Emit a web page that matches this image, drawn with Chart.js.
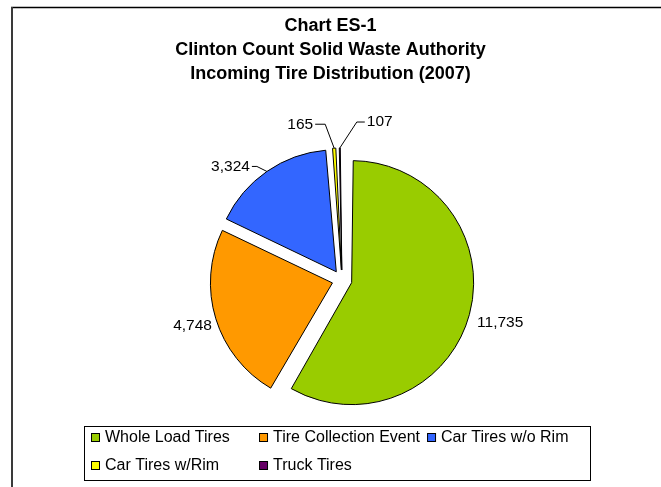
<!DOCTYPE html>
<html>
<head>
<meta charset="utf-8">
<title>Chart ES-1</title>
<script src="https://cdn.jsdelivr.net/npm/chart.js@4/dist/chart.umd.min.js"></script>
<style>
  html, body { margin: 0; padding: 0; background: #fff; }
  #wrap { width: 661px; height: 487px; }
</style>
</head>
<body>
<div id="wrap"><canvas id="tire-chart" width="661" height="487"></canvas></div>
<script>
const titleLines = ['Chart ES-1', 'Clinton Count Solid Waste Authority', 'Incoming Tire Distribution (2007)'];
const categories = ['Whole Load Tires', 'Tire Collection Event', 'Car Tires w/o Rim', 'Car Tires w/Rim', 'Truck Tires'];
const tireCounts = [11735, 4748, 3324, 165, 107];
const sliceColors = ['#99cc00', '#ff9900', '#3366ff', '#ffff00', '#660066'];

// how each value label sits: big slices along the bisector, thin ones on a leader line
const labelPlacement = [
  { gap: 8 },
  { gap: 4 },
  { elbow: [-10, -5], run: -5 },
  { elbow: [-9, -24], run: -10 },
  { elbow: [17, -26], run: 8 },
];

const FONT = "'Liberation Sans', Arial, Helvetica, sans-serif";
const EXPLODE = 10; // px every slice is pulled out
const RADIUS = 122;

const fmt = (n) => String(n).replace(/\B(?=(\d{3})+(?!\d))/g, ',');
const total = tireCounts.reduce((a, b) => a + b, 0);

// chart.js v4 moves an arc by offset/4 and grows it by (offset/4)*fix, fix depending on its angle
const arcFix = (i) => 1 - Math.sin(Math.min(Math.PI, (tireCounts[i] / total) * 2 * Math.PI));

const framePlugin = {
  id: 'frame',
  beforeDraw(chart) {
    const { ctx, width, height } = chart;
    ctx.save();
    ctx.fillStyle = '#fff';
    ctx.fillRect(0, 0, width, height);
    ctx.strokeStyle = '#000';
    ctx.lineWidth = 1.5;
    ctx.beginPath();
    ctx.moveTo(11, 7.5);
    ctx.lineTo(width, 7.5);
    ctx.stroke();
    ctx.strokeStyle = '#3a3a3a';
    ctx.lineWidth = 2;
    ctx.beginPath();
    ctx.moveTo(12, 7);
    ctx.lineTo(12, height);
    ctx.stroke();
    ctx.restore();
  },
};

// title spans the whole canvas even though the plot is nudged right
const centerTitle = {
  id: 'centerTitle',
  afterLayout(chart) {
    if (!chart.titleBlock) return;
    chart.titleBlock.left = 0;
    chart.titleBlock.right = chart.width;
  },
};

// keep all slices the same radius after the offset growth
const evenRadius = {
  id: 'evenRadius',
  afterDatasetUpdate(chart, args) {
    args.meta.data.forEach((arc, i) => {
      arc.outerRadius = RADIUS - EXPLODE * arcFix(i);
    });
  },
};

const valueLabels = {
  id: 'valueLabels',
  afterDatasetsDraw(chart) {
    const { ctx } = chart;
    const meta = chart.getDatasetMeta(0);
    const values = chart.data.datasets[0].data;
    ctx.save();
    ctx.font = `15.5px ${FONT}`;
    ctx.fillStyle = '#000';
    ctx.strokeStyle = '#000';
    ctx.lineWidth = 1;
    ctx.textBaseline = 'middle';
    meta.data.forEach((arc, i) => {
      const { x, y, startAngle, endAngle } = arc;
      const mid = (startAngle + endAngle) / 2;
      const cos = Math.cos(mid);
      const sin = Math.sin(mid);
      const edge = RADIUS + EXPLODE;
      const ax = x + cos * edge;
      const ay = y + sin * edge;
      const text = fmt(values[i]);
      const place = labelPlacement[i];

      if (place.elbow) {
        const ex = ax + place.elbow[0];
        const ey = ay + place.elbow[1];
        const hx = ex + place.run;
        ctx.beginPath();
        ctx.moveTo(ax, ay);
        ctx.lineTo(ex, ey);
        ctx.lineTo(hx, ey);
        ctx.stroke();
        ctx.textAlign = place.run < 0 ? 'right' : 'left';
        ctx.fillText(text, hx + Math.sign(place.run) * 2, ey);
        return;
      }

      const hw = ctx.measureText(text).width / 2;
      const hh = 8;
      const reach = Math.min(
        Math.abs(cos) > 1e-6 ? hw / Math.abs(cos) : Infinity,
        Math.abs(sin) > 1e-6 ? hh / Math.abs(sin) : Infinity
      );
      const d = edge + place.gap + reach;
      ctx.textAlign = 'center';
      ctx.fillText(text, x + cos * d, y + sin * d);
    });
    ctx.restore();
  },
};

const boxedLegend = {
  id: 'boxedLegend',
  afterDraw(chart) {
    const { ctx } = chart;
    const cols = 3;
    const left = 84;
    const top = 426;
    const rowH = 28;
    const sq = 9;
    ctx.save();
    ctx.font = `16px ${FONT}`;
    ctx.textBaseline = 'middle';
    ctx.textAlign = 'left';
    const widths = categories.map((c) => ctx.measureText(c).width);
    const colW = Math.max(...widths) + sq + 5 + 7;
    const rows = Math.ceil(categories.length / cols);
    const lastCol = Math.min(cols, categories.length) - 1;
    const right = left + 7 + lastCol * colW + sq + 5 + widths[lastCol] + 22;
    const bottom = top + rows * rowH - 2;

    ctx.strokeStyle = '#000';
    ctx.lineWidth = 1;
    ctx.strokeRect(left + 0.5, top + 0.5, Math.round(right - left), bottom - top);

    categories.forEach((name, i) => {
      const cx = left + 7 + (i % cols) * colW;
      const cy = top + 12 + Math.floor(i / cols) * rowH;
      ctx.fillStyle = sliceColors[i];
      ctx.fillRect(cx + 0.5, cy - 4.5, sq - 1, sq - 1);
      ctx.strokeRect(cx + 0.5, cy - 4.5, sq - 1, sq - 1);
      ctx.fillStyle = '#000';
      ctx.fillText(name, cx + sq + 5, cy);
    });
    ctx.restore();
  },
};

Chart.defaults.color = '#000';
Chart.defaults.font.family = FONT;

new Chart(document.getElementById('tire-chart'), {
  type: 'pie',
  data: {
    labels: categories,
    datasets: [{
      data: tireCounts,
      backgroundColor: sliceColors,
      borderColor: '#000',
      borderWidth: 1,
      offset: EXPLODE * 4,
      hoverOffset: 0,
    }],
  },
  options: {
    responsive: false,
    animation: false,
    radius: RADIUS,
    layout: { padding: { left: 23, right: 0, top: 0, bottom: 13.5 } },
    plugins: {
      legend: { display: false },
      tooltip: { enabled: false },
      title: {
        display: true,
        text: titleLines,
        font: { size: 18, weight: 'bold', lineHeight: 24 / 18 },
        padding: { top: 14.5, bottom: 0 },
      },
    },
    events: [],
  },
  plugins: [framePlugin, centerTitle, evenRadius, valueLabels, boxedLegend],
});
</script>
</body>
</html>
